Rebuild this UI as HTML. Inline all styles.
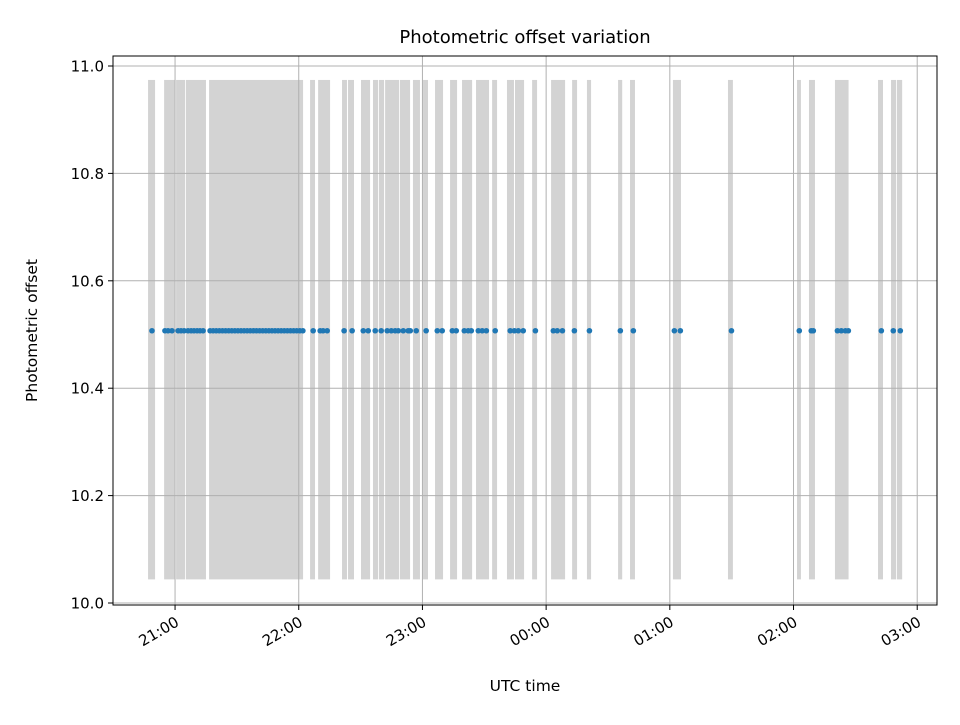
<!DOCTYPE html>
<html><head><meta charset="utf-8"><style>
body{margin:0;background:#fff;font-family:"Liberation Sans","DejaVu Sans",sans-serif}
</style></head><body>
<svg id="chart" width="960" height="720" xmlns="http://www.w3.org/2000/svg" font-family="'DejaVu Sans','Liberation Sans',sans-serif">
<rect width="960" height="720" fill="#fff"/>
<g id="bars"></g><g id="grid"></g><g id="pts"></g><g id="axes"></g>
</svg>
<script>
// minutes after 21:00 UTC
const barStarts=[-13.1,-5.3,0.5,5.3,16.5,65.5,69.4,81.0,83.9,90.2,96.0,98.9,101.9,109.1,115.4,120.3,126.1,133.4,139.2,146.0,153.8,161.0,164.9,173.2,182.4,192.6,199.8,214.9,220.7,241.5,268.2,301.7,307.5,320.1,341.0,347.3,350.2];
const barEnds=[-9.7,0,4.9,15.0,62.1,67.9,75.2,83.4,86.8,94.6,98.5,101.4,108.7,114.0,118.8,122.7,130.0,136.8,144.1,152.3,156.2,164.4,169.3,175.6,189.2,195.0,201.8,216.9,223.1,245.4,270.6,303.6,310.4,326.7,343.4,349.8,352.7];
const barLow=10.044, barHigh=10.974;
const pointTimes=[-11.2,-4.9,-3.4,-1.5,1.5,2.9,4.4,6.3,7.8,9.2,10.7,12.1,13.6,17,18.5,20,21.5,23,24.5,26,27.5,29,30.5,32,33.5,35,36.5,38,39.5,41,42.5,44,45.5,47,48.5,50,51.5,53,54.5,56,57.5,59,60.5,62,67.0,70.4,71.8,73.8,82.0,85.9,91.3,93.7,97.1,100.0,102.9,104.9,106.8,108.3,110.7,113.1,114.1,117.0,121.8,127.2,129.6,134.5,136.4,140.3,142.2,143.7,147.1,149.0,151.0,155.3,162.6,164.6,166.5,168.9,174.8,183.5,185.4,187.9,193.7,201.0,216.0,222.3,242.2,245.1,269.9,302.8,308.6,309.6,321.3,323.2,325.2,326.6,342.6,348.4,351.8];
const pointValue=10.507;
const xTicks=[0,60,120,180,240,300,360];
const xTickLabels=["21:00","22:00","23:00","00:00","01:00","02:00","03:00"];
const yTicks=[10.0,10.2,10.4,10.6,10.8,11.0];
const yTickLabels=["10.0","10.2","10.4","10.6","10.8","11.0"];

const L=113,R=937,T=56,B=605;
const xMin=-30.1,xMax=369.6,yMin=9.9963,yMax=11.0186;
const X=v=>L+(v-xMin)/(xMax-xMin)*(R-L);
const Y=v=>B-(v-yMin)/(yMax-yMin)*(B-T);
const NS="http://www.w3.org/2000/svg";
function mk(tag,attrs,parent){const e=document.createElementNS(NS,tag);for(const k in attrs)e.setAttribute(k,attrs[k]);parent.appendChild(e);return e;}
const g=document.getElementById('grid'),gb=document.getElementById('bars'),gp=document.getElementById('pts'),ga=document.getElementById('axes');
xTicks.forEach((t,i)=>{
  const l=mk('line',{x1:X(t),x2:X(t),y1:T,y2:B,stroke:'#b0b0b0','stroke-width':1},g);
  
  
  mk('line',{x1:X(t),x2:X(t),y1:B,y2:B+5,stroke:'#000'},ga);
  const ax=X(t)+5, ay=B+20;
  const tx=mk('text',{x:ax,y:ay,'font-size':15,'text-anchor':'end',transform:`rotate(-30 ${ax} ${ay})`},ga);
  tx.textContent=xTickLabels[i];
  
  
});
yTicks.forEach((t,i)=>{
  const l=mk('line',{x1:L,x2:R,y1:Y(t),y2:Y(t),stroke:'#b0b0b0','stroke-width':1},g);
  
  
  mk('line',{x1:L-5,x2:L,y1:Y(t),y2:Y(t),stroke:'#000'},ga);
  const tx=mk('text',{x:L-9,y:Y(t)+5.5,'font-size':15,'text-anchor':'end'},ga);
  tx.textContent=yTickLabels[i];
  
  
});
barStarts.forEach((s,i)=>{
  const r=mk('rect',{x:X(s),y:Y(barHigh),width:X(barEnds[i])-X(s),height:Y(barLow)-Y(barHigh),fill:'#d3d3d3'},gb);
  
  
});
pointTimes.forEach(t=>{
  const c=mk('circle',{cx:X(t),cy:Y(pointValue),r:2.8,fill:'#1f77b4'},gp);
  
  
});
const fr=mk('rect',{x:L,y:T,width:R-L,height:B-T,fill:'none',stroke:'#000','stroke-width':1},ga);


const tt=mk('text',{x:(L+R)/2,y:43,'font-size':18,'text-anchor':'middle'},ga);
tt.textContent='Photometric offset variation';


const xl=mk('text',{x:(L+R)/2,y:691,'font-size':15.5,'text-anchor':'middle'},ga);
xl.textContent='UTC time';


const yl=mk('text',{x:37,y:(T+B)/2,'font-size':15.5,'text-anchor':'middle',transform:`rotate(-90 37 ${(T+B)/2})`},ga);
yl.textContent='Photometric offset';


</script>
</body></html>
